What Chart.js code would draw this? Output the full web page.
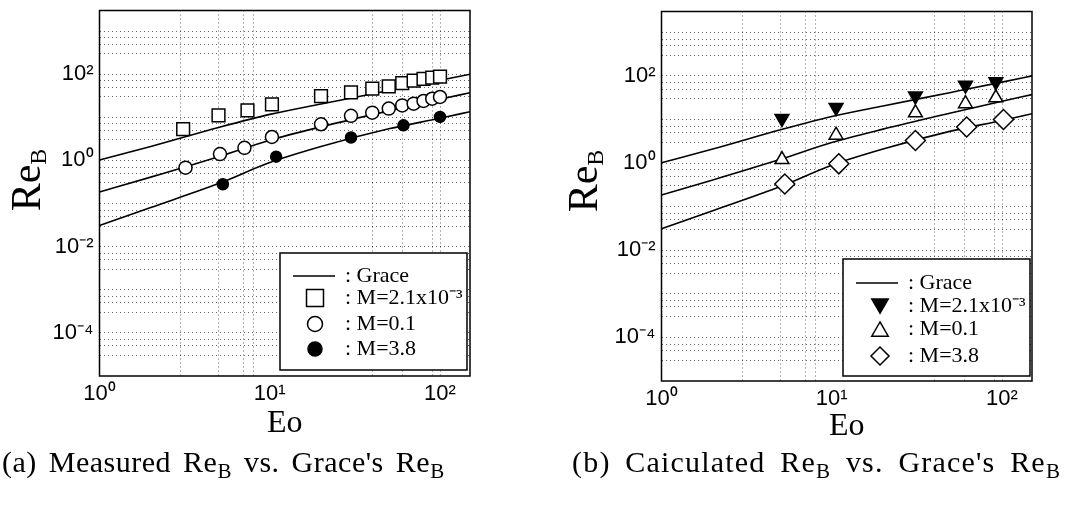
<!DOCTYPE html>
<html>
<head>
<meta charset="utf-8">
<script src="https://cdn.jsdelivr.net/npm/chart.js@4.4.1/dist/chart.umd.min.js"></script>
<style>
  body { margin: 0; background: #fff; width: 1068px; height: 511px; position: relative; overflow: hidden; }
  canvas { position: absolute; top: 0; }
  #chartA { left: 0; }
  #chartB { left: 534px; }
  .cap { position: absolute; top: 446px; font-family: "Liberation Serif", "Times New Roman", serif; font-size: 30px; line-height: 32px; letter-spacing: 0.5px; word-spacing: 4px; color: #000; white-space: nowrap; }
  .cap sub { font-size: 21px; vertical-align: -6px; line-height: 0; }
</style>
</head>
<body>
<canvas id="chartA" width="534" height="450"></canvas>
<canvas id="chartB" width="534" height="450"></canvas>
<div class="cap" style="left:2px">(a) Measured Re<sub>B</sub> vs. Grace's Re<sub>B</sub></div>
<div class="cap" style="left:572px; letter-spacing:1.2px; word-spacing:6px">(b) Caiculated Re<sub>B</sub> vs. Grace's Re<sub>B</sub></div>
<script>
// Grace correlation, same curves in both panels
const graceEo = [1, 2, 5, 10, 20, 50, 100, 150]
const graceM1 = [1.02, 2.1, 5.8, 11.7, 20.4, 41.7, 72, 100]
const graceM2 = [0.186, 0.41, 1.22, 2.95, 6.0, 14.1, 26.3, 37.2]
const graceM3 = [0.031, 0.081, 0.29, 0.89, 2.1, 5.4, 9.5, 13.5]

// (a) measured
const measEo1 = [3.1, 5, 7.4, 10.3, 20, 30, 40, 50, 60, 70, 80, 90, 100]
const measRe1 = [5.3, 11.1, 14.5, 20, 31, 38, 46, 52, 62, 71, 78, 83, 88]
const measEo2 = [3.2, 5.1, 7.1, 10.3, 20, 30, 40, 50, 60, 70, 80, 90, 100]
const measRe2 = [0.68, 1.4, 1.96, 3.5, 6.9, 10.8, 12.8, 15.9, 18.9, 20.7, 23.9, 27, 29.6]
const measEo3 = [5.3, 10.9, 30, 61, 100]
const measRe3 = [0.28, 1.22, 3.4, 6.5, 10.2]

// (b) calculated
const calcEo12 = [5.1, 10.6, 31, 61, 92]
const calcRe1 = [10.5, 18.8, 34.5, 61, 73]
const calcRe2 = [1.2, 4.35, 14.2, 23, 31.5]
const calcEo3 = [5.3, 11, 31, 62, 102]
const calcRe3 = [0.33, 0.96, 3.3, 6.7, 10]

const seriesLabels = [': M=2.1x10⁻³', ': M=0.1', ': M=3.8']
const graceLabel = ': Grace'
const yTitle = ['Re', 'B']
const xTitle = 'Eo'

const xLabelValues = [1, 10, 100]
const xLabels = ['10⁰', '10¹', '10²']
const yLabelValues = [1e-4, 1e-2, 1, 100]
const yLabels = ['10⁻⁴', '10⁻²', '10⁰', '10²']
const xGridValues = [3, 5, 7, 8, 40, 60, 90, 100]
const yGridSteps = [1, 3, 5, 7]

const yGridValues = []
for (let n = -5; n <= 3; n++) {
  for (const k of yGridSteps) {
    const v = parseFloat(k + 'e' + n)
    if (v > 1e-5 && v < 3000) yGridValues.push(v)
  }
}
const xTicks = [...new Set([...xLabelValues, ...xGridValues])].sort((a, b) => a - b)
const yTicks = [...new Set([...yLabelValues, ...yGridValues])].sort((a, b) => a - b)

const pts = (xs, ys) => xs.map((x, i) => ({x: x, y: ys[i]}))
const serif = '"Liberation Serif", "Times New Roman", serif'
const sans = '"Liberation Sans", Arial, sans-serif'
const gridCol = 'rgba(0,0,0,0.6)'

const panelDeco = {
  id: 'panelDeco',
  afterDatasetsDraw(chart, args, o) {
    const {ctx, chartArea: a} = chart
    const ds = chart.data.datasets
    ctx.save()
    ctx.setLineDash([])
    ctx.strokeStyle = '#000'
    ctx.lineWidth = 1.5
    ctx.strokeRect(a.left, a.top, a.width, a.height)

    // legend box in the lower right of the plot
    const bx = a.right - o.boxRight - o.boxW
    const by = a.bottom - o.boxBottom - o.boxH
    ctx.fillStyle = '#fff'
    ctx.fillRect(bx, by, o.boxW, o.boxH)
    ctx.strokeRect(bx, by, o.boxW, o.boxH)

    ctx.font = '22px ' + serif
    ctx.textBaseline = 'middle'
    let ry = by + o.rows[0]
    ctx.beginPath()
    ctx.moveTo(bx + 13, ry)
    ctx.lineTo(bx + 55, ry)
    ctx.stroke()
    ctx.fillStyle = '#000'
    ctx.fillText(ds[3].label, bx + o.textX, ry)
    for (let i = 0; i < 3; i++) {
      const d = ds[i]
      ry = by + o.rows[i + 1]
      let my = ry
      // triangles: centre the bounding box on the row, not the centroid
      if (d.pointStyle === 'triangle') my += (d.pointRotation === 180 ? -1 : 1) * d.legendRadius / 4
      ctx.fillStyle = d.pointBackgroundColor
      ctx.strokeStyle = d.pointBorderColor
      ctx.lineWidth = d.pointBorderWidth
      Chart.helpers.drawPoint(ctx, {
        pointStyle: d.pointStyle, radius: d.legendRadius,
        rotation: d.pointRotation || 0, borderWidth: d.pointBorderWidth
      }, bx + o.markX, my)
      ctx.fillStyle = '#000'
      ctx.fillText(d.label, bx + o.textX, ry)
    }
    ctx.restore()
  },
  afterDraw(chart, args, o) {
    // rotated Re_B title with subscript
    const ctx = chart.ctx
    ctx.save()
    ctx.translate(o.titleX, o.titleY)
    ctx.rotate(-Math.PI / 2)
    ctx.fillStyle = '#000'
    ctx.textBaseline = 'alphabetic'
    ctx.font = '42px ' + serif
    const w1 = ctx.measureText(yTitle[0]).width
    ctx.font = '24px ' + serif
    const w2 = ctx.measureText(yTitle[1]).width
    const x0 = -(w1 + w2) / 2
    ctx.font = '42px ' + serif
    ctx.fillText(yTitle[0], x0, 0)
    ctx.font = '24px ' + serif
    ctx.fillText(yTitle[1], x0 + w1, 6)
    ctx.restore()
  }
}

function markerSet(label, data, style, fill, r, legendR, rot) {
  return {
    label: label, data: data, showLine: false,
    pointStyle: style, pointRadius: r, pointHoverRadius: r, pointRotation: rot || 0,
    pointBackgroundColor: fill, pointBorderColor: '#000', pointBorderWidth: 1.5,
    legendRadius: legendR
  }
}

function graceSets() {
  return [graceM1, graceM2, graceM3].map((re, i) => ({
    label: i === 0 ? graceLabel : '',
    data: pts(graceEo, re),
    showLine: true, borderColor: '#000', borderWidth: 1.6,
    pointRadius: 0, cubicInterpolationMode: 'monotone', fill: false
  }))
}

function makePanel(id, markers, box) {
  return new Chart(document.getElementById(id), {
    type: 'scatter',
    data: { datasets: markers.concat(graceSets()) },
    plugins: [panelDeco],
    options: {
      responsive: false,
      animation: false,
      layout: { padding: { left: 0, top: box.top, right: box.right, bottom: 0 } },
      plugins: {
        legend: { display: false },
        tooltip: { enabled: false },
        panelDeco: box.deco
      },
      scales: {
        x: {
          type: 'logarithmic', min: 1, max: 150,
          afterBuildTicks: s => { s.ticks = xTicks.map(v => ({value: v})) },
          afterFit: s => { s.height = box.xH; s.paddingLeft = 0; s.paddingRight = 0 },
          ticks: {
            autoSkip: false, maxRotation: 0, padding: 5, color: '#000',
            font: { family: sans, size: 22 },
            callback: v => { const i = xLabelValues.indexOf(v); return i < 0 ? '' : xLabels[i] }
          },
          grid: {
            drawTicks: false, lineWidth: 1,
            color: c => (c.tick && xGridValues.includes(c.tick.value)) ? gridCol : 'rgba(0,0,0,0)'
          },
          border: { display: false, dash: [1, 3] },
          title: {
            display: true, text: xTitle, color: '#000',
            font: { family: serif, size: 32 }, padding: { top: 0, bottom: box.xTitlePad }
          }
        },
        y: {
          type: 'logarithmic', min: 1e-5, max: 3000,
          afterBuildTicks: s => { s.ticks = yTicks.map(v => ({value: v})) },
          afterFit: s => { s.width = box.yW; s.paddingTop = 0; s.paddingBottom = 0 },
          ticks: {
            autoSkip: false, padding: 6, color: '#000',
            font: { family: sans, size: 22 },
            callback: v => { const i = yLabelValues.indexOf(v); return i < 0 ? '' : yLabels[i] }
          },
          grid: { drawTicks: false, lineWidth: 1, color: gridCol },
          border: { display: false, dash: [1, 3] }
        }
      }
    }
  })
}

makePanel('chartA', [
  markerSet(seriesLabels[0], pts(measEo1, measRe1), 'rect', '#fff', 9, 12),
  markerSet(seriesLabels[1], pts(measEo2, measRe2), 'circle', '#fff', 6.5, 7.5),
  markerSet(seriesLabels[2], pts(measEo3, measRe3), 'circle', '#000', 5.5, 7)
], {
  top: 8, right: 64, yW: 99.5, xH: 74, xTitlePad: 7,
  deco: { boxRight: 3, boxBottom: 6, boxW: 187, boxH: 117, rows: [23, 45, 71, 96], markX: 35, textX: 65, titleX: 40, titleY: 180 }
})

makePanel('chartB', [
  markerSet(seriesLabels[0], pts(calcEo12, calcRe1), 'triangle', '#000', 8, 9.5, 180),
  markerSet(seriesLabels[1], pts(calcEo12, calcRe2), 'triangle', '#fff', 8, 9.5),
  markerSet(seriesLabels[2], pts(calcEo3, calcRe3), 'rectRot', '#fff', 10, 9)
], {
  top: 10, right: 36, yW: 127.5, xH: 69, xTitlePad: 4,
  deco: { boxRight: 2, boxBottom: 5, boxW: 187, boxH: 117, rows: [24, 47, 70, 97], markX: 37, textX: 65, titleX: 63, titleY: 181 }
})
</script>
</body>
</html>
